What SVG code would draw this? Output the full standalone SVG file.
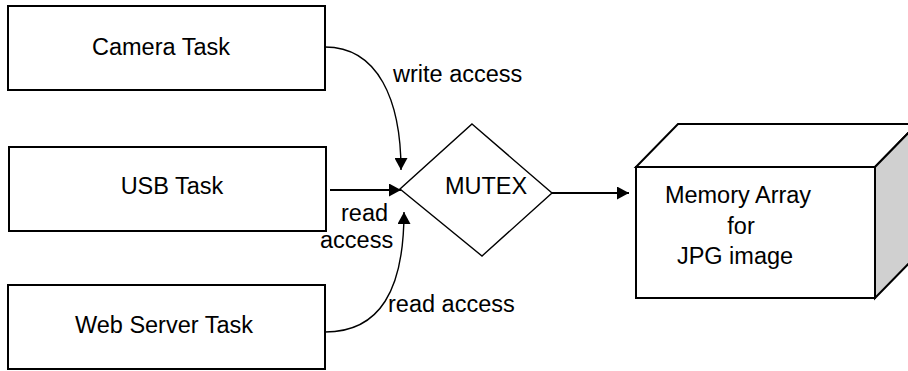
<svg xmlns="http://www.w3.org/2000/svg" width="908" height="371" viewBox="0 0 908 371">
<style>
text{font-family:"Liberation Sans",Arial,sans-serif;font-size:23.5px;fill:#000}
.box{fill:#fff;stroke:#000;stroke-width:2}
.edge{fill:none;stroke:#000;stroke-width:1.4}
.thick{fill:none;stroke:#000;stroke-width:2}
</style>
<defs>
<marker id="ah" viewBox="0 0 12 13" refX="12" refY="6.5" markerWidth="12" markerHeight="13" markerUnits="userSpaceOnUse" orient="auto">
<path d="M0,0 L12,6.5 L0,13 Z" fill="#000"/>
</marker>
</defs>
<rect width="908" height="371" fill="#fff"/>
<g id="camera">
<rect class="box" x="8" y="6" width="317" height="84"/>
<text x="161" y="55" text-anchor="middle">Camera Task</text>
</g>
<g id="usb">
<rect class="box" x="9" y="147" width="317" height="84"/>
<text x="172" y="194" text-anchor="middle">USB Task</text>
</g>
<g id="web">
<rect class="box" x="8" y="285" width="317" height="84"/>
<text x="164" y="333" text-anchor="middle">Web Server Task</text>
</g>
<g id="mutex">
<path d="M472,124 L552,193 L482,256 L400,189 Z" fill="#fff" stroke="#000" stroke-width="1.4"/>
<text x="486" y="194" text-anchor="middle">MUTEX</text>
</g>
<g id="memory">
<path d="M636,167 L678,124 L917,124 L875,167 Z" fill="#fff" stroke="#000" stroke-width="2"/>
<path d="M875,167 L917,124 L917,255 L875,298 Z" fill="#d0d0d0" stroke="#000" stroke-width="2"/>
<rect x="636" y="167" width="239" height="131" fill="#fff" stroke="#000" stroke-width="2"/>
<text x="738" y="203" text-anchor="middle">Memory Array</text>
<text x="741" y="234" text-anchor="middle">for</text>
<text x="735" y="264" text-anchor="middle">JPG image</text>
</g>
<g id="connectors">
<path class="edge" d="M325,47 C378,47 401,100 401,170" marker-end="url(#ah)"/>
<path class="thick" d="M330,190 L401,190" marker-end="url(#ah)"/>
<path class="edge" d="M325,332 C380,332 404,290 404,212" marker-end="url(#ah)"/>
<path class="thick" d="M552,193 L629,193" marker-end="url(#ah)"/>
<text x="393" y="82">write access</text>
<text x="341" y="221">read</text>
<text x="320" y="248">access</text>
<text x="388" y="312">read access</text>
</g>
</svg>
